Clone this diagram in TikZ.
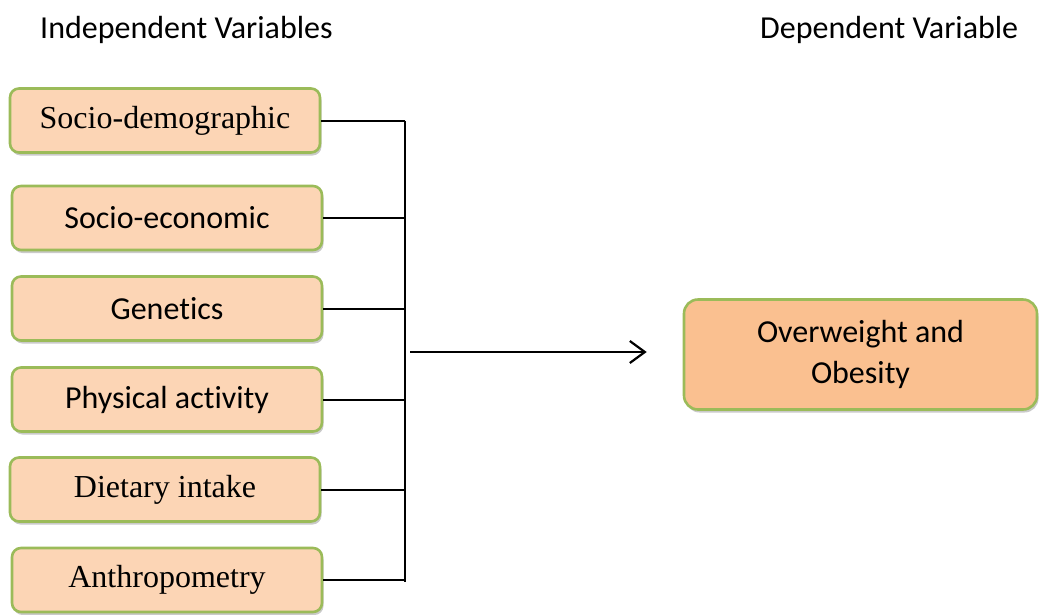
\documentclass[tikz,border=0pt]{standalone}
\usepackage{fontspec}
\setmainfont{Carlito}[Ligatures=NoCommon]
\newfontfamily\timesf{Liberation Serif}
\usetikzlibrary{shadows,arrows.meta}
\definecolor{boxfill}{HTML}{FCD5B5}
\definecolor{outfill}{HTML}{FAC090}
\definecolor{boxline}{HTML}{9BBB59}
\tikzset{
  varbox/.style={draw=boxline, line width=2.6pt, fill=boxfill, rounded corners=9pt,
    minimum width=310pt, minimum height=64pt, inner sep=0pt, align=center,
    drop shadow={shadow xshift=1.5pt, shadow yshift=-3pt, opacity=0.35, fill=black!60},
    font=\fontsize{32}{41}\selectfont},
  serifbox/.style={varbox, font=\timesf\fontsize{32}{41}\selectfont},
  outbox/.style={varbox, fill=outfill, minimum width=353pt, minimum height=110pt, rounded corners=14pt},
  header/.style={font=\fontsize{32}{38}\selectfont, inner sep=0pt, anchor=west},
  conn/.style={line width=2pt, black},
}
\begin{document}
\begin{tikzpicture}[x=1pt,y=-1pt]
\useasboundingbox (0,0) rectangle (1039,614);
\node[header] (h1) at (40,30) {Independent Variables};
\node[header] (h2) at (760,30) {Dependent Variable};
\node[serifbox] (b1) at (165,120.5) {Socio-demographic};
\node[varbox] (b2) at (167,218) {\raisebox{-2pt}{Socio-economic}};
\node[varbox] (b3) at (167,308.5) {\raisebox{-2pt}{Genetics}};
\node[varbox] (b4) at (167,399.5) {\raisebox{-2pt}{Physical activity}};
\node[serifbox] (b5) at (165,489.5) {Dietary intake};
\node[serifbox] (b6) at (167,580) {Anthropometry};
\node[outbox] (out) at (860.5,354.5) {\raisebox{-2.5pt}{\begin{tabular}{@{}c@{}}Overweight and\\Obesity\end{tabular}}};
\coordinate (vtop) at (405,120.5);
\coordinate (vbot) at (405,582);
\coordinate (astart) at (410,352);
\draw[conn] (vtop) -- (vbot);
\foreach \b in {b1,b2,b3,b4,b5,b6} \draw[conn] (\b.east) -- (\b.east -| vtop);
\draw[conn, -{Straight Barb[length=15pt,width=22pt,line width=2.2pt]}] (astart) -- ([xshift=-36pt]astart -| out.west);
\end{tikzpicture}
\end{document}
